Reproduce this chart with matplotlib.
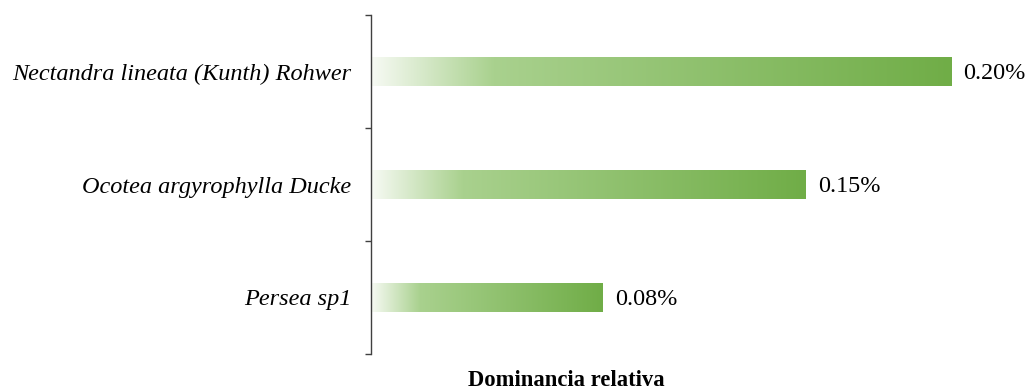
import numpy as np
import matplotlib
matplotlib.use('Agg')
import matplotlib.pyplot as plt
from matplotlib.colors import LinearSegmentedColormap

plt.rcParams['font.family'] = ['Liberation Serif', 'DejaVu Serif']

especies = ['Nectandra lineata (Kunth) Rohwer', 'Ocotea argyrophylla Ducke', 'Persea sp1']
dominancia = [0.20, 0.15, 0.08]
etiquetas = ['0.20%', '0.15%', '0.08%']

# gradient used inside each bar: pale on the left, green on the right
grad = LinearSegmentedColormap.from_list(
    'verde', [(0.0, '#f7faf4'), (0.21, '#a9d18e'), (1.0, '#70ad47')])
ramp = np.linspace(0, 1, 256).reshape(1, -1)

fig = plt.figure(figsize=(10.32, 3.90), dpi=100)
ax = fig.add_axes([371 / 1032, 36 / 390, 638 / 1032, 339 / 390])

y = np.arange(len(especies))
alto = 0.25
bars = ax.barh(y, dominancia, height=alto, facecolor='none', edgecolor='none')
for b, v, txt in zip(bars, dominancia, etiquetas):
    x0, y0 = b.get_x(), b.get_y()
    im = ax.imshow(ramp, cmap=grad, aspect='auto', interpolation='bilinear',
                   extent=(x0, x0 + b.get_width(), y0, y0 + b.get_height()))
    im.set_clip_path(b)
    ax.annotate(txt, (v, y0 + alto / 2), xytext=(9, -1.5), textcoords='offset points',
                ha='left', va='center', fontsize=17.4)

ax.set_xlim(0, 0.22)
ax.set_ylim(-0.5, len(especies) - 0.5)
ax.invert_yaxis()

ax.set_yticks(y)
ax.set_yticklabels(especies, fontsize=17.5, style='italic')
ax.tick_params(axis='y', which='major', length=0, pad=14)
ax.set_yticks(np.arange(-0.5, len(especies)), minor=True)
ax.tick_params(axis='y', which='minor', length=4.5, width=1, color='#404040')

ax.set_xticks([])

for s in ['top', 'right', 'bottom']:
    ax.spines[s].set_visible(False)
ax.spines['left'].set_color('#404040')
ax.spines['left'].set_linewidth(1)

fig.text(566 / 1032, 9 / 390, 'Dominancia relativa', ha='center', va='center',
         fontsize=16.3, fontweight='bold')

fig.savefig('out.png', dpi=100)
